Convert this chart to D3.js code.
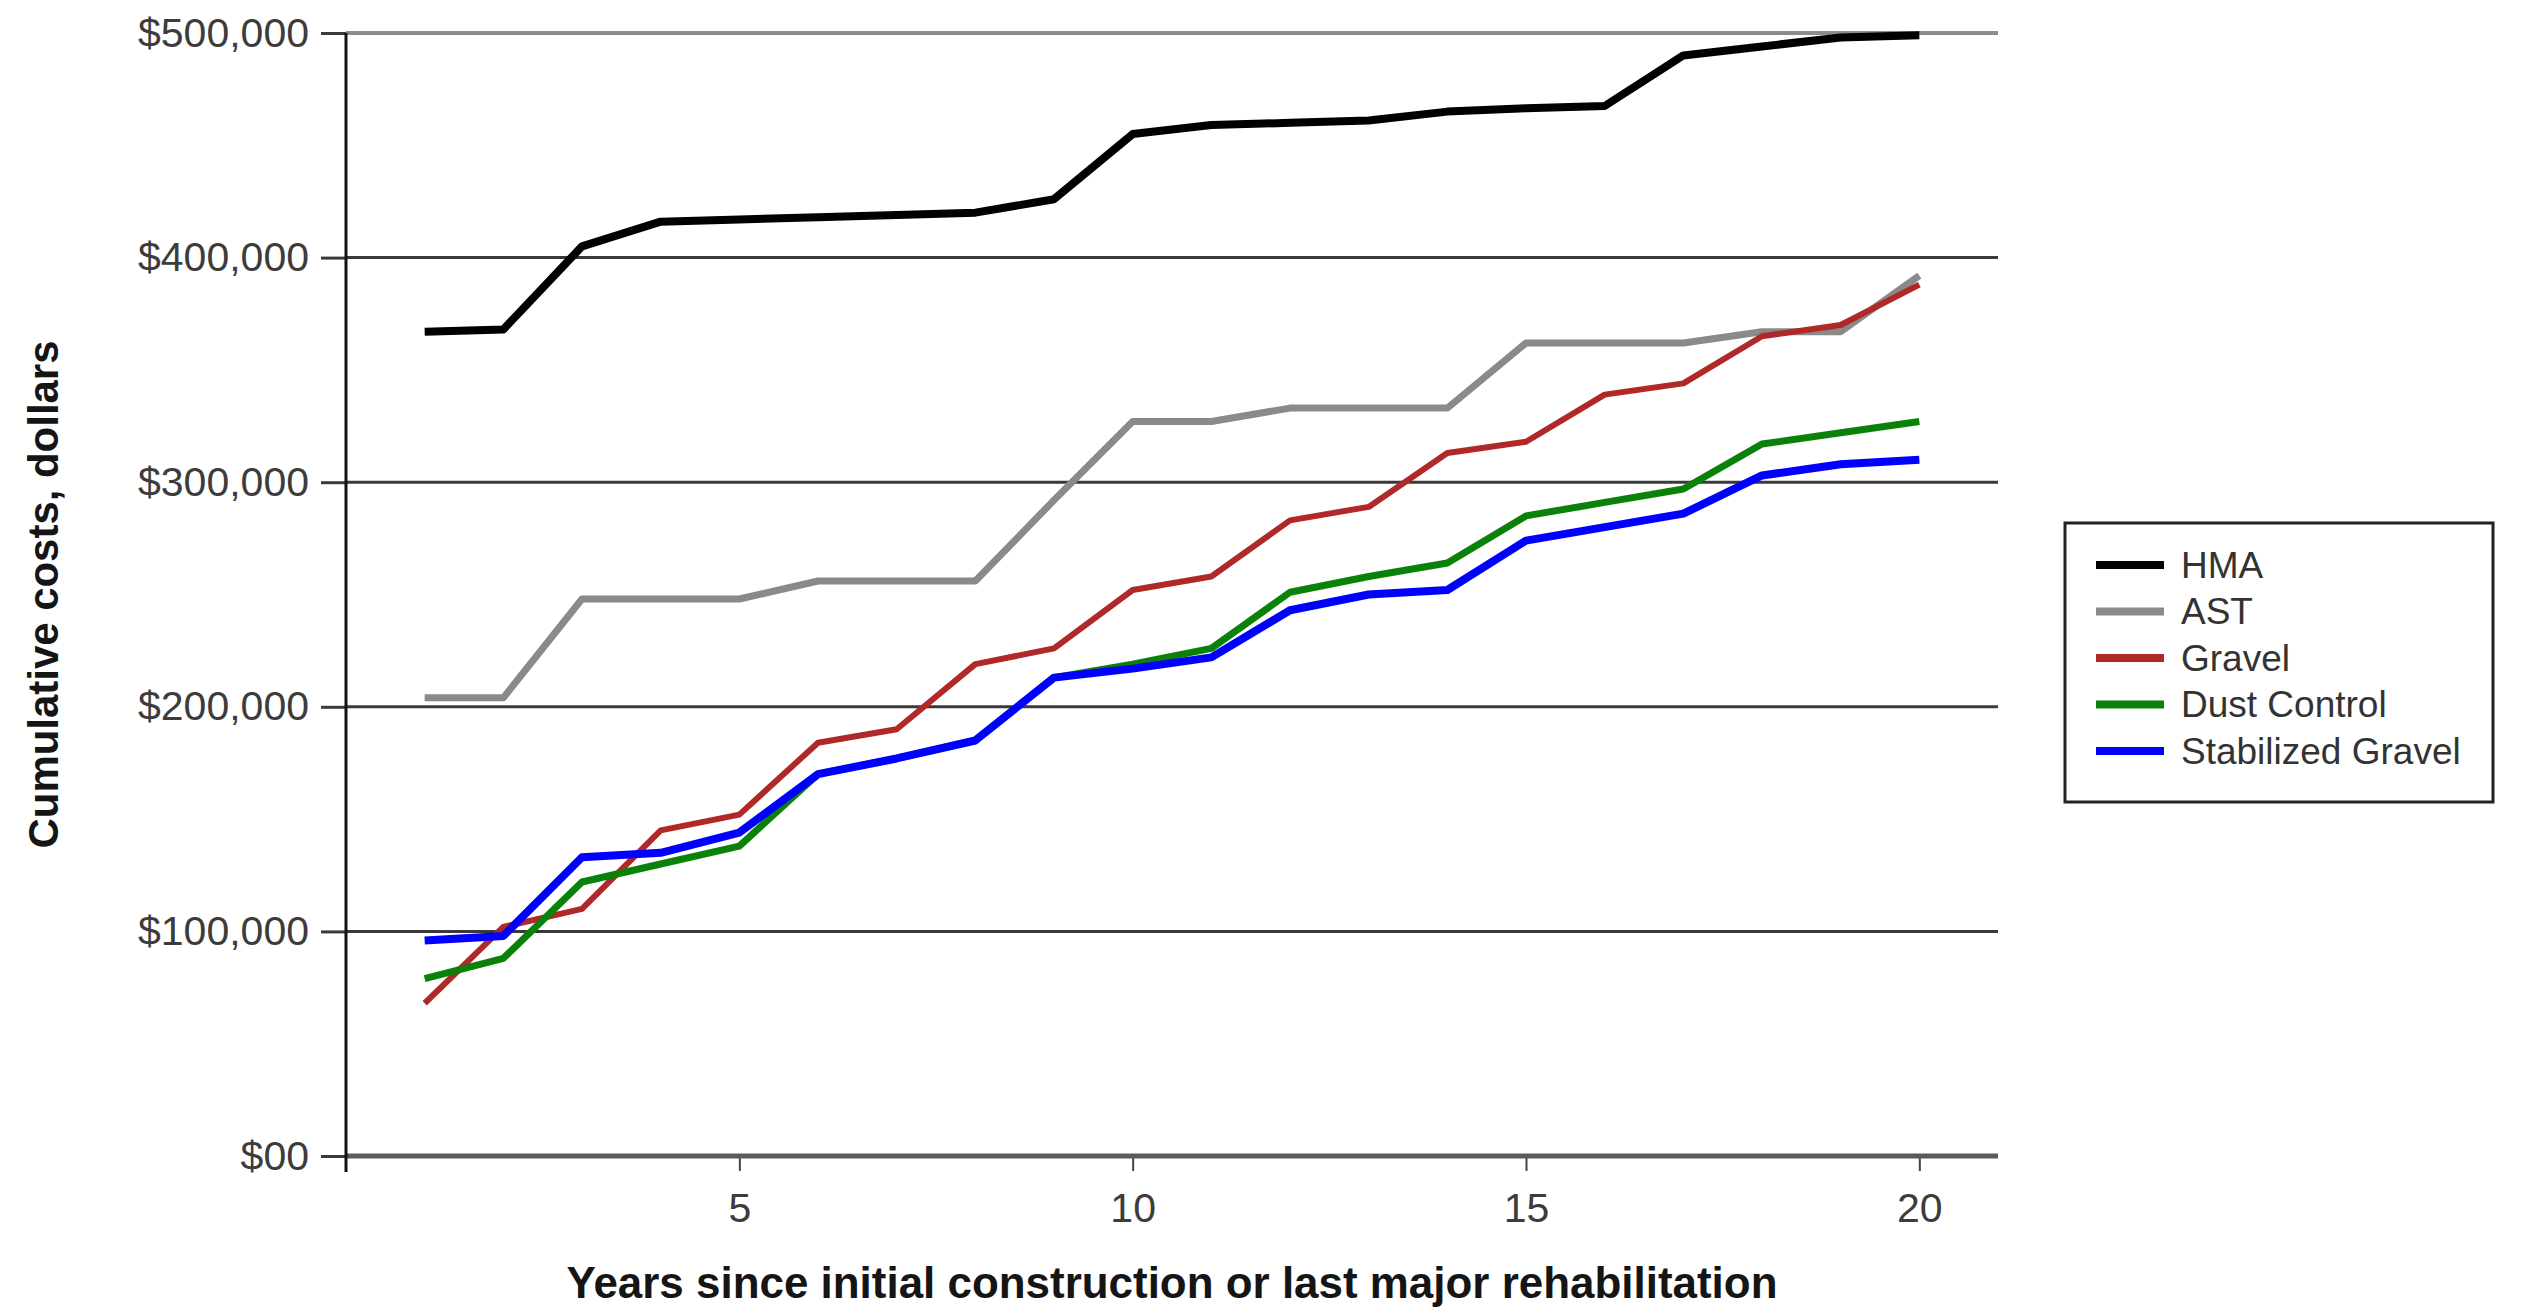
<!DOCTYPE html>
<html><head><meta charset="utf-8">
<script src="https://cdn.jsdelivr.net/npm/d3@7"></script>
<style>html,body{margin:0;padding:0;background:#fff;} svg{display:block;}</style>
</head><body>
<script>
// ---- data ----
const years = [1,2,3,4,5,6,7,8,9,10,11,12,13,14,15,16,17,18,19,20];
const hma = [367000,368000,405000,416000,417000,418000,419000,420000,426000,455000,459000,460000,461000,465000,466500,467500,490000,494000,498000,499000];
const ast = [204000,204000,248000,248000,248000,256000,256000,256000,292000,327000,327000,333000,333000,333000,362000,362000,362000,367000,367000,392000];
const gravel = [68000,102000,110000,145000,152000,184000,190000,219000,226000,252000,258000,283000,289000,313000,318000,339000,344000,365000,370000,388000];
const dustControl = [79000,88000,122000,130000,138000,170000,177000,185000,213000,219000,226000,251000,258000,264000,285000,291000,297000,317000,322000,327000];
const stabilizedGravel = [96000,98000,133000,135000,144000,170000,177000,185000,213000,217000,222000,243000,250000,252000,274000,280000,286000,303000,308000,310000];
const seriesNames = ["HMA","AST","Gravel","Dust Control","Stabilized Gravel"];
const seriesValues = [hma, ast, gravel, dustControl, stabilizedGravel];
const seriesColors = ["#000000","#8a8a8a","#b02828","#0a820a","#0000ff"];
const yTickValues = [0,100000,200000,300000,400000,500000];
const yTickLabels = ["$00","$100,000","$200,000","$300,000","$400,000","$500,000"];
const xTickValues = [5,10,15,20];
const xTitle = "Years since initial construction or last major rehabilitation";
const yTitle = "Cumulative costs, dollars";

// ---- layout ----
const W = 2527, H = 1310;
const FONT = "'Liberation Sans', Arial, sans-serif";
const svg = d3.select("body").append("svg").attr("width", W).attr("height", H)
  .style("background", "#fff");

const x = d3.scaleLinear().domain([0, 21]).range([346, 1998]);
const y = d3.scaleLinear().domain([0, 500000]).range([1156, 33]);

// gridlines
svg.append("g").selectAll("line").data(yTickValues.filter(v => v > 0)).join("line")
  .attr("x1", x(0)).attr("x2", x(21))
  .attr("y1", d => y(d)).attr("y2", d => y(d))
  .attr("stroke", d => d === 500000 ? "#8c8c8c" : "#3a3a3a")
  .attr("stroke-width", d => d === 500000 ? 4 : 3);

// y axis (ticks + labels)
const yAxis = svg.append("g").attr("transform", `translate(${x(0)},0)`)
  .call(d3.axisLeft(y).tickValues(yTickValues).tickSize(25).tickPadding(12)
    .tickFormat((d, i) => yTickLabels[i]));
yAxis.select(".domain").remove();
yAxis.selectAll(".tick line").attr("stroke", "#3a3a3a").attr("stroke-width", 3);
yAxis.selectAll(".tick text").attr("font-family", FONT).attr("font-size", 41)
  .attr("fill", "#3c3c3c");

// x axis
const xAxis = svg.append("g").attr("transform", `translate(0,${y(0)})`)
  .call(d3.axisBottom(x).tickValues(xTickValues).tickSize(15).tickPadding(22));
xAxis.select(".domain").remove();
xAxis.selectAll(".tick line").attr("stroke", "#444").attr("stroke-width", 2);
xAxis.selectAll(".tick text").attr("font-family", FONT).attr("font-size", 41)
  .attr("fill", "#3c3c3c");

// axis lines
svg.append("line").attr("x1", x(0)).attr("x2", x(21)).attr("y1", y(0)).attr("y2", y(0))
  .attr("stroke", "#5a5a5a").attr("stroke-width", 5);
svg.append("line").attr("x1", x(0)).attr("x2", x(0)).attr("y1", y(500000)).attr("y2", y(0) + 16)
  .attr("stroke", "#111").attr("stroke-width", 3);

// lines
const line = d3.line().x((d, i) => x(years[i])).y(d => y(d));
const widths = [8, 7, 6, 7, 8];
seriesValues.forEach((vals, k) => {
  svg.append("path").datum(vals).attr("d", line)
    .attr("fill", "none").attr("stroke", seriesColors[k])
    .attr("stroke-width", widths[k]).attr("stroke-linejoin", "round");
});

// titles
svg.append("text").attr("x", (x(0) + x(21)) / 2).attr("y", 1298)
  .attr("text-anchor", "middle").attr("font-family", FONT).attr("font-weight", "bold")
  .attr("font-size", 44).attr("fill", "#151515")
  .attr("textLength", 1211).attr("lengthAdjust", "spacingAndGlyphs").text(xTitle);
svg.append("text").attr("transform", `translate(43,${(y(0) + y(500000)) / 2}) rotate(-90)`)
  .attr("text-anchor", "middle").attr("dominant-baseline", "central")
  .attr("font-family", FONT).attr("font-weight", "bold")
  .attr("font-size", 42).attr("fill", "#151515")
  .attr("textLength", 508).attr("lengthAdjust", "spacingAndGlyphs").text(yTitle);

// legend
const lg = svg.append("g");
lg.append("rect").attr("x", 2065).attr("y", 523).attr("width", 428).attr("height", 279)
  .attr("fill", "#fff").attr("stroke", "#222").attr("stroke-width", 3);
seriesNames.forEach((name, i) => {
  const cy = 565 + i * 46.5;
  lg.append("line").attr("x1", 2096).attr("x2", 2164).attr("y1", cy).attr("y2", cy)
    .attr("stroke", seriesColors[i]).attr("stroke-width", 8);
  lg.append("text").attr("x", 2181).attr("y", cy).attr("dominant-baseline", "central")
    .attr("font-family", FONT).attr("font-size", 37).attr("fill", "#333").text(name);
});
</script>
</body></html>
